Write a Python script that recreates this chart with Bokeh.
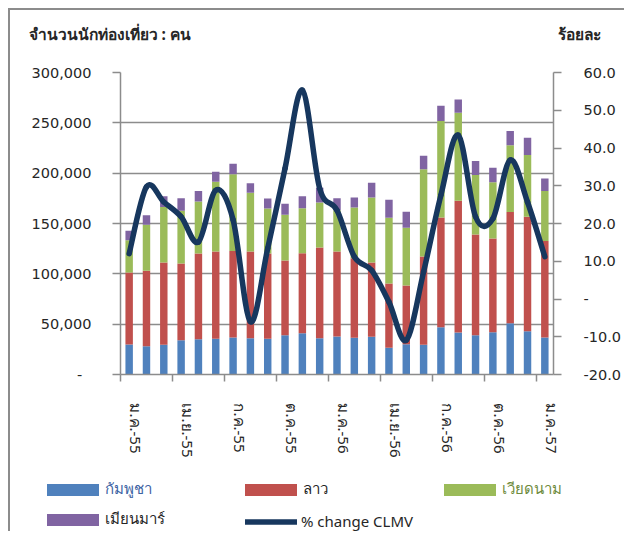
from bokeh.plotting import figure
from bokeh.layouts import column
from bokeh.models import (ColumnDataSource, Range1d, LinearAxis, FixedTicker, Legend,
                          LegendItem, Label, NumeralTickFormatter)
from bokeh.embed import file_html
from bokeh.resources import INLINE

# ---------------- data ----------------
months = ["ม.ค.-55", "ก.พ.-55", "มี.ค.-55", "เม.ย.-55", "พ.ค.-55", "มิ.ย.-55",
          "ก.ค.-55", "ส.ค.-55", "ก.ย.-55", "ต.ค.-55", "พ.ย.-55", "ธ.ค.-55",
          "ม.ค.-56", "ก.พ.-56", "มี.ค.-56", "เม.ย.-56", "พ.ค.-56", "มิ.ย.-56",
          "ก.ค.-56", "ส.ค.-56", "ก.ย.-56", "ต.ค.-56", "พ.ย.-56", "ธ.ค.-56",
          "ม.ค.-57"]
cambodia = [29800, 28100, 29500, 34100, 35100, 35400, 36800, 36100, 35400, 39100,
            41100, 36100, 37700, 36400, 37400, 26500, 30000, 29500, 47000, 41700,
            39100, 42000, 51000, 43000, 36800]
laos = [71500, 74900, 81700, 76200, 85100, 86800, 86000, 86100, 84800, 74100,
        79400, 90000, 84500, 79200, 73800, 63900, 58400, 87700, 108900, 130800,
        99900, 93100, 110500, 113600, 95900]
vietnam = [32100, 45700, 55300, 52300, 51600, 69200, 76200, 58300, 44700, 45400,
           44700, 44700, 41000, 50300, 64600, 65200, 57300, 86700, 96000, 87400,
           59300, 55900, 66300, 61500, 49700]
myanmar = [9300, 9600, 10600, 12600, 10600, 9900, 10300, 9500, 9900, 10900,
           11900, 14600, 12000, 9900, 14600, 17900, 15900, 13300, 15000, 13200,
           13900, 14300, 14200, 17200, 12300]
pct_change = [12.0, 29.7, 25.7, 21.8, 15.1, 28.8, 21.0, -6.0, 13.4, 34.6, 55.3, 29.3,
              23.5, 11.2, 7.6, -0.8, -10.9, 7.2, 27.5, 43.4, 21.8, 21.3, 36.8, 25.7, 11.2]

series_names = ["กัมพูชา", "ลาว", "เวียดนาม", "เมียนมาร์"]
line_name = "% change CLMV"
left_title = "จำนวนนักท่องเที่ยว : คน"
right_title = "ร้อยละ"
left_ticks = [0, 50000, 100000, 150000, 200000, 250000, 300000]
right_ticks = [-20, -10, 0, 10, 20, 30, 40, 50, 60]
label_every = 3

# ---------------- styling ----------------
colors = ["#4F81BD", "#C0504D", "#9BBB59", "#8064A2"]
legend_text_colors = ["#3D63A3", "#262626", "#6E8B3D", "#262626"]
line_color = "#17375E"
grid_color = "#8C8C8C"
text_color = "#262626"
num_font = "DejaVu Sans"
thai_font = "Noto Sans, sans-serif"
label_shift = 0.4   # month labels sit a little right of the category centre

W = 614
n = len(months)
xs = list(range(n))
src = ColumnDataSource(dict(x=xs, cambodia=cambodia, laos=laos,
                            vietnam=vietnam, myanmar=myanmar, pct=pct_change))

# bezier segments (smoothed line) computed from pct_change
bx0, by0, bx1, by1, cx0, cy0, cx1, cy1 = [], [], [], [], [], [], [], []
for i in range(n - 1):
    pi_ = i - 1 if i > 0 else i
    ni_ = i + 2 if i + 2 < n else i + 1
    bx0.append(xs[i]); by0.append(pct_change[i])
    bx1.append(xs[i + 1]); by1.append(pct_change[i + 1])
    cx0.append(xs[i] + (xs[i + 1] - xs[pi_]) / 6.0)
    cy0.append(pct_change[i] + (pct_change[i + 1] - pct_change[pi_]) / 6.0)
    cx1.append(xs[i + 1] - (xs[ni_] - xs[i]) / 6.0)
    cy1.append(pct_change[i + 1] - (pct_change[ni_] - pct_change[i]) / 6.0)
bsrc = ColumnDataSource(dict(x0=bx0, y0=by0, x1=bx1, y1=by1,
                             cx0=cx0, cy0=cy0, cx1=cx1, cy1=cy1))


def no_align(f):
    if "frame_align" in f.properties():
        f.frame_align = False
    return f


def blank_fig(h, y_range):
    f = figure(width=W, height=h, output_backend="svg", toolbar_location=None,
               x_range=Range1d(-0.5, n - 0.5), y_range=y_range,
               x_axis_type=None, y_axis_type=None, min_border=0)
    f.grid.visible = False
    f.outline_line_color = None
    f.background_fill_color = "white"
    f.border_fill_color = "white"
    return no_align(f)


# ---------------- header (axis titles) ----------------
hdr = blank_fig(38, Range1d(0, 1))
hdr.add_layout(Label(x=18, y=15, x_units="screen", y_units="screen", text=left_title,
                     text_font=thai_font, text_font_size="15.5px", text_font_style="bold",
                     text_color=text_color, text_baseline="middle", text_align="left"))
hdr.add_layout(Label(x=590, y=15, x_units="screen", y_units="screen", text=right_title,
                     text_font=thai_font, text_font_size="15.5px", text_font_style="bold",
                     text_color=text_color, text_baseline="middle", text_align="right"))

# ---------------- main chart ----------------
p = figure(width=W, height=422, output_backend="svg", toolbar_location=None,
           x_range=Range1d(-0.5, n - 0.5), y_range=Range1d(0, 300000),
           min_border_left=110, min_border_right=69, min_border_top=24,
           min_border_bottom=96)
no_align(p)
p.outline_line_color = None
p.background_fill_color = "white"
p.border_fill_color = "white"
p.extra_y_ranges = {"pct": Range1d(-20, 60)}

p.xgrid.visible = False
p.ygrid.ticker = FixedTicker(ticks=left_ticks)
p.ygrid.grid_line_color = grid_color
p.ygrid.grid_line_width = 1.5

ya = p.yaxis[0]
ya.ticker = FixedTicker(ticks=left_ticks)
ya.formatter = NumeralTickFormatter(format="0,0")
ya.major_label_overrides = {0: "-\u2007"}
ya.axis_line_color = grid_color
ya.axis_line_width = 1.5
ya.major_tick_line_color = grid_color
ya.major_tick_line_width = 1.5
ya.major_tick_out = 8
ya.major_tick_in = 0
ya.minor_tick_line_color = None
ya.major_label_standoff = 21
ya.major_label_text_font = num_font
ya.major_label_text_font_size = "14.5px"
ya.major_label_text_color = text_color

ra = LinearAxis(y_range_name="pct", ticker=FixedTicker(ticks=right_ticks))
ra.major_label_overrides = {t: ("-" if t == 0 else f"{t:.1f}") for t in right_ticks}
ra.axis_line_color = grid_color
ra.axis_line_width = 1.5
ra.major_tick_line_color = grid_color
ra.major_tick_line_width = 1.5
ra.major_tick_out = 8
ra.major_tick_in = 0
ra.minor_tick_line_color = None
ra.major_label_standoff = 22
ra.major_label_text_font = num_font
ra.major_label_text_font_size = "14.5px"
ra.major_label_text_color = text_color
p.add_layout(ra, "right")

xa = p.xaxis[0]
label_pos = [v + label_shift for v in xs[::label_every]]
xa.ticker = FixedTicker(ticks=label_pos,
                        minor_ticks=[v - 0.5 for v in xs[::label_every]])
xa.major_label_overrides = {v + label_shift: months[v] for v in xs[::label_every]}
xa.major_label_orientation = "vertical"
xa.axis_line_color = grid_color
xa.axis_line_width = 1.5
xa.major_tick_line_color = None
xa.major_tick_out = 0
xa.major_tick_in = 0
xa.minor_tick_line_color = grid_color
xa.minor_tick_line_width = 1.5
xa.minor_tick_out = 7
xa.minor_tick_in = 0
xa.major_label_standoff = 22
xa.major_label_text_font = thai_font
xa.major_label_text_font_size = "15px"
xa.major_label_text_color = text_color

p.vbar_stack(["cambodia", "laos", "vietnam", "myanmar"], x="x", width=0.43,
             color=colors, line_color=None, source=src)
p.bezier(x0="x0", y0="y0", x1="x1", y1="y1", cx0="cx0", cy0="cy0",
         cx1="cx1", cy1="cy1", source=bsrc, y_range_name="pct",
         line_color=line_color, line_width=5.5, line_cap="round")

# ---------------- legend strip ----------------
# legend proxies reuse the real data; the strip's y range lies far above all values,
# so only their legend swatches are seen
lg = blank_fig(61, Range1d(1e7, 1e7 + 1))
swatches = [lg.vbar(x="x", top=name, width=0.43, color=c, line_color=None, source=src)
            for name, c in zip(["cambodia", "laos", "vietnam", "myanmar"], colors)]
line_sw = lg.line(x="x", y="pct", source=src, line_color=line_color,
                  line_width=5.5, line_cap="round")


def add_leg(renderer, label, x, y, tcolor, gw, gh, standoff):
    leg = Legend(items=[LegendItem(label=label, renderers=[renderer])],
                 location=(x, y), orientation="horizontal", padding=0, margin=0,
                 spacing=0, border_line_color=None, background_fill_alpha=0,
                 glyph_width=gw, glyph_height=gh, label_standoff=standoff,
                 label_text_font=thai_font, label_text_font_size="15px",
                 label_text_color=tcolor)
    lg.add_layout(leg)


row1_y, row2_y = 30, 0
add_leg(swatches[0], series_names[0], 30, row1_y, legend_text_colors[0], 65, 15, 0)
add_leg(swatches[1], series_names[1], 228, row1_y, legend_text_colors[1], 65, 15, 0)
add_leg(swatches[2], series_names[2], 427, row1_y, legend_text_colors[2], 65, 15, 0)
add_leg(swatches[3], series_names[3], 30, row2_y, legend_text_colors[3], 65, 15, 0)
add_leg(line_sw, line_name, 235, row2_y, text_color, 52, 15, 4)

page = column(hdr, p, lg, spacing=0,
              styles={"margin-left": "8px", "margin-top": "8px",
                      "border-left": "2px solid #8C8C8C", "border-top": "2px solid #8C8C8C"})

open("out.html", "w").write(file_html(page, INLINE))
